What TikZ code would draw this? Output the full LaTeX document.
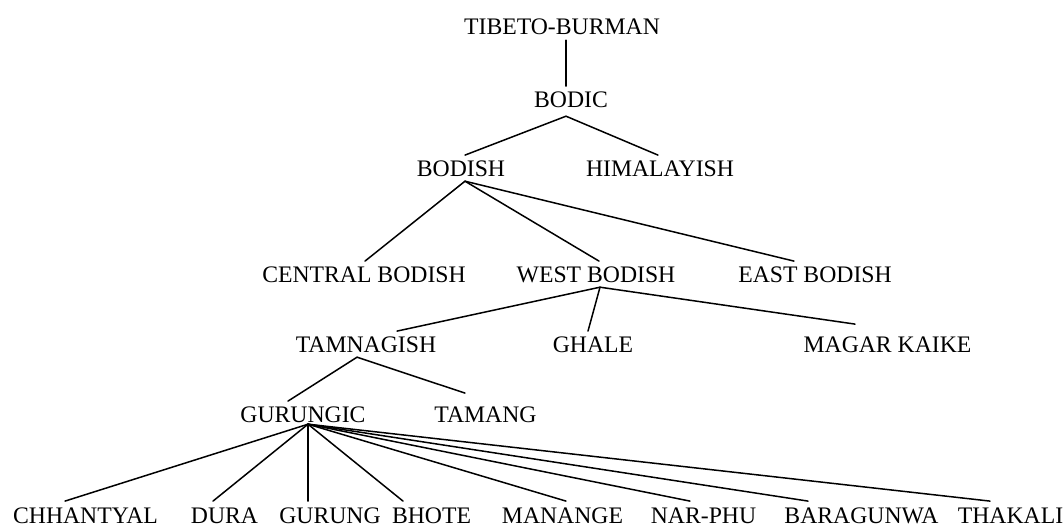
\documentclass[tikz,border=0pt]{standalone}
\usepackage{fontspec}
\setmainfont{Liberation Serif}
\begin{document}
\begin{tikzpicture}[x=1pt,y=-1pt,
  lang/.style={anchor=base,inner sep=0pt,text height=20.7pt,text depth=5pt,font=\fontsize{23.7}{28}\selectfont},
  branch/.style={line width=1.5pt,line cap=round}]
\useasboundingbox (0,0) rectangle (1063,527);
\node[lang] (tb) at (562,35) {TIBETO-BURMAN};
\node[lang] (bodic) at (571,107) {BODIC};
\node[lang] (bodish) at (461,176) {BODISH};
\node[lang] (him) at (660,176) {HIMALAYISH};
\node[lang] (cen) at (364,282) {CENTRAL BODISH};
\node[lang] (west) at (596,282) {WEST BODISH};
\node[lang] (east) at (815,282) {EAST BODISH};
\node[lang] (tamn) at (366,352) {TAMNAGISH};
\node[lang] (ghale) at (593,352) {GHALE};
\node[lang] (magar) at (887.5,352) {MAGAR KAIKE};
\node[lang] (gurc) at (303,422) {GURUNGIC};
\node[lang] (tamang) at (485.5,422) {TAMANG};
\node[lang] (chh) at (85.5,523) {CHHANTYAL};
\node[lang] (dura) at (224.5,523) {DURA};
\node[lang] (gurung) at (330,523) {GURUNG};
\node[lang] (bhote) at (431.5,523) {BHOTE};
\node[lang] (manange) at (562.5,523) {MANANGE};
\node[lang] (narphu) at (703.5,523) {NAR-PHU};
\node[lang] (baragunwa) at (861.5,523) {BARAGUNWA};
\node[lang] (thakali) at (1010.5,523) {THAKALI};

\draw[branch] ([xshift=4pt]tb.south) -- ([xshift=-5pt]bodic.north);
\draw[branch] ([xshift=-5pt,yshift=-4pt]bodic.south) -- ([xshift=4pt]bodish.north);
\draw[branch] ([xshift=-5pt,yshift=-4pt]bodic.south) -- ([xshift=-2pt]him.north);
\draw[branch] ([xshift=4pt]bodish.south) -- ([xshift=1pt]cen.north);
\draw[branch] ([xshift=4pt]bodish.south) -- ([xshift=3pt]west.north);
\draw[branch] ([xshift=4pt]bodish.south) -- ([xshift=-21pt]east.north);
\draw[branch] ([xshift=4pt]west.south) -- ([xshift=31pt]tamn.north);
\draw[branch] ([xshift=4pt]west.south) -- ([xshift=-5pt]ghale.north);
\draw[branch] ([xshift=4pt]west.south) -- ([xshift=-32.5pt,yshift=7pt]magar.north);
\draw[branch] ([xshift=-9pt]tamn.south) -- ([xshift=-15pt]gurc.north);
\draw[branch] ([xshift=-9pt]tamn.south) -- ([xshift=-20.5pt,yshift=8pt]tamang.north);
\draw[branch] ([xshift=5pt,yshift=3pt]gurc.south) -- ([xshift=-20.5pt,yshift=1pt]chh.north);
\draw[branch] ([xshift=5pt,yshift=3pt]gurc.south) -- ([xshift=-11.5pt,yshift=1pt]dura.north);
\draw[branch] ([xshift=5pt,yshift=3pt]gurc.south) -- ([xshift=-22pt,yshift=1pt]gurung.north);
\draw[branch] ([xshift=5pt,yshift=3pt]gurc.south) -- ([xshift=-28.5pt,yshift=1pt]bhote.north);
\draw[branch] ([xshift=5pt,yshift=3pt]gurc.south) -- ([xshift=3.5pt,yshift=1pt]manange.north);
\draw[branch] ([xshift=5pt,yshift=3pt]gurc.south) -- ([xshift=-13.5pt,yshift=1pt]narphu.north);
\draw[branch] ([xshift=5pt,yshift=3pt]gurc.south) -- ([xshift=-53.5pt,yshift=1pt]baragunwa.north);
\draw[branch] ([xshift=5pt,yshift=3pt]gurc.south) -- ([xshift=-20.5pt,yshift=1pt]thakali.north);
\end{tikzpicture}
\end{document}
